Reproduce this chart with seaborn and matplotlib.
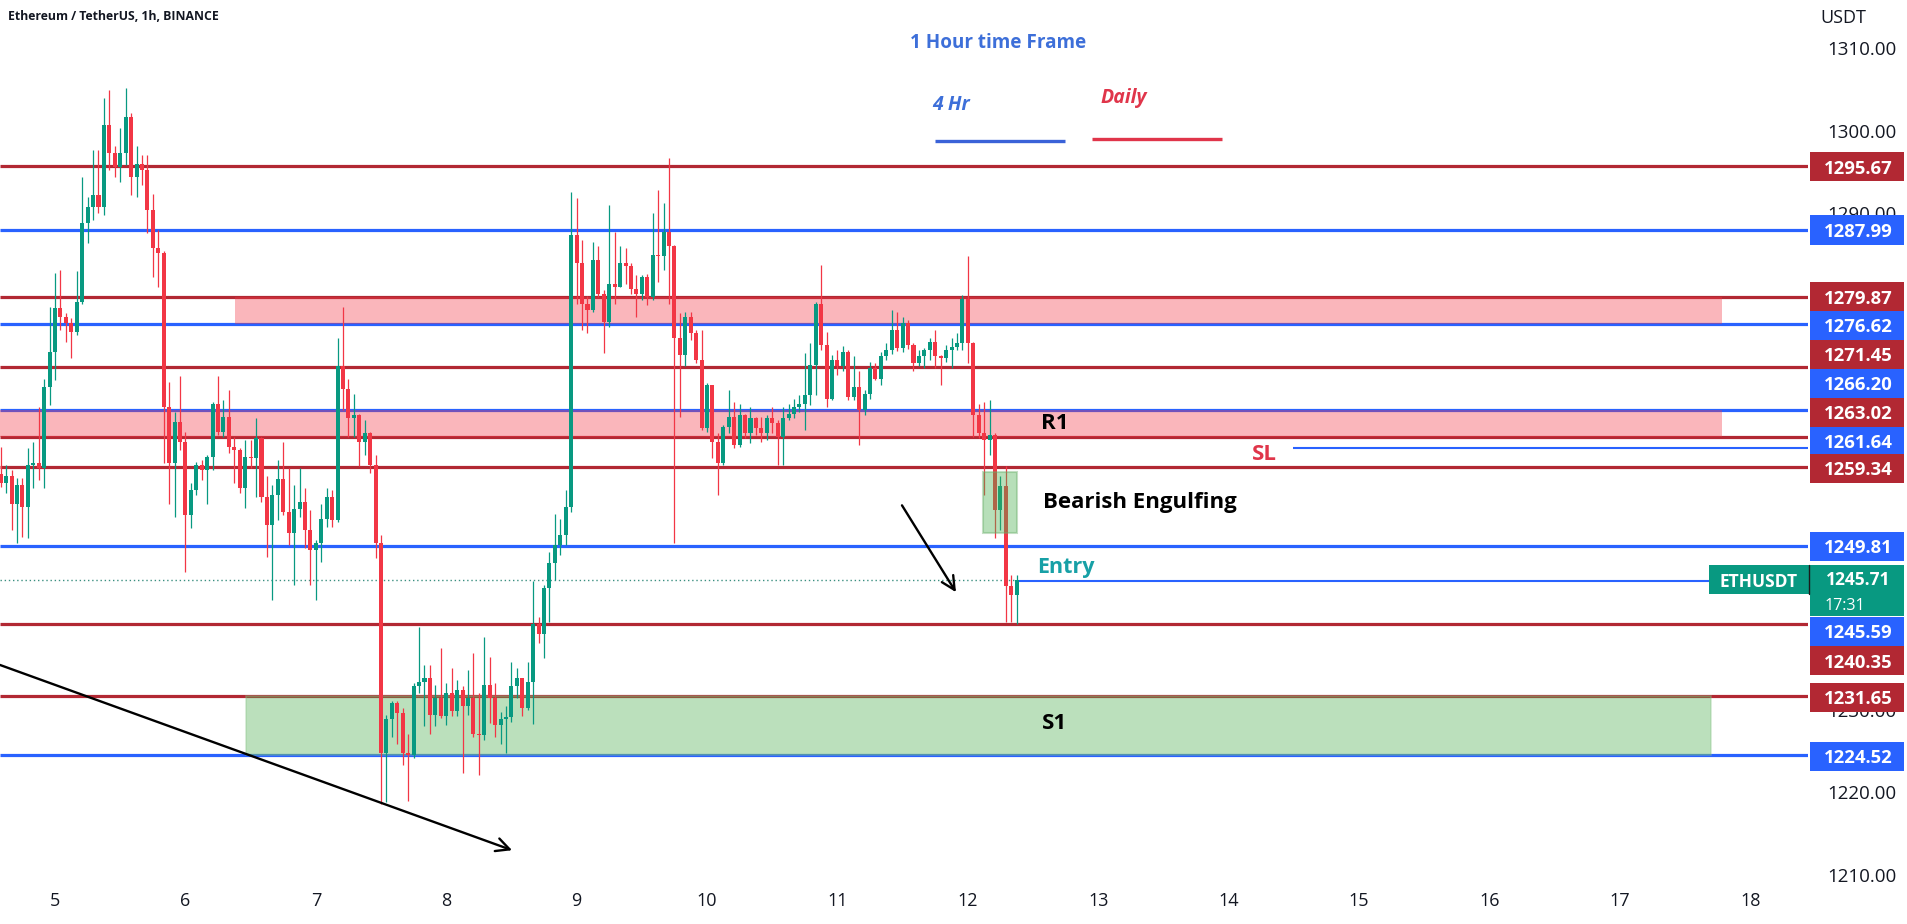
import numpy as np
import pandas as pd
import matplotlib
matplotlib.use("Agg")
import matplotlib.pyplot as plt
import seaborn as sns
from matplotlib.patches import Rectangle
from matplotlib.lines import Line2D

# ---------------- data ----------------
first_candle_day = 4 + 14 / 24          # first hourly candle: day 4, 14:00
first_open = 1258.5

close = [
    1257.4, 1258.2, 1254.9, 1257.1, 1254.5, 1259.6, 1259.8, 1259.2, 1269.0, 1273.3,
    1278.5, 1277.5, 1276.7, 1275.7, 1279.3, 1288.8, 1290.8, 1292.2, 1290.8, 1300.7,
    1297.3, 1295.6, 1297.3, 1301.7, 1294.4, 1296.0, 1295.2, 1290.4, 1285.8, 1285.2,
    1266.6, 1259.8, 1264.8, 1262.4, 1253.5, 1256.5, 1259.6, 1259.0, 1260.6, 1267.0,
    1263.6, 1265.4, 1261.8, 1261.4, 1256.8, 1260.6, 1260.4, 1262.8, 1255.7, 1252.3,
    1255.9, 1257.9, 1253.9, 1251.3, 1254.3, 1255.1, 1251.7, 1249.3, 1250.1, 1253.1,
    1255.7, 1252.9, 1271.5, 1268.8, 1265.2, 1265.6, 1262.4, 1263.4, 1259.6, 1250.1,
    1224.7, 1228.9, 1230.8, 1229.6, 1224.7, 1224.5, 1232.8, 1233.4, 1233.8, 1229.4,
    1231.4, 1229.2, 1232.0, 1229.8, 1232.4, 1230.4, 1231.4, 1227.1, 1226.9, 1233.0,
    1231.4, 1228.1, 1228.9, 1229.1, 1232.8, 1233.8, 1230.2, 1233.4, 1240.4, 1239.2,
    1244.7, 1247.7, 1249.9, 1251.1, 1254.5, 1287.4, 1284.0, 1279.1, 1278.3, 1284.4,
    1280.3, 1276.9, 1281.5, 1281.1, 1284.0, 1283.6, 1280.9, 1280.3, 1282.3, 1279.9,
    1285.0, 1284.8, 1287.8, 1286.0, 1274.9, 1272.9, 1277.5, 1275.5, 1272.3, 1264.0,
    1269.2, 1262.4, 1259.8, 1264.2, 1265.4, 1262.0, 1265.6, 1263.4, 1265.2, 1264.0,
    1263.4, 1265.2, 1264.6, 1263.0, 1265.2, 1265.8, 1266.6, 1267.0, 1268.0, 1271.7,
    1279.1, 1274.1, 1267.6, 1272.3, 1271.5, 1273.3, 1267.8, 1269.0, 1266.2, 1268.2,
    1271.3, 1270.0, 1272.7, 1273.5, 1275.9, 1273.7, 1276.7, 1274.1, 1271.9, 1272.7,
    1273.5, 1274.5, 1272.7, 1272.5, 1273.5, 1273.9, 1274.3, 1279.7, 1274.3, 1265.6,
    1263.4, 1262.6, 1263.2, 1254.1, 1257.0, 1244.9, 1243.9, 1245.71,
]
high = [
    1261.8, 1259.6, 1259.0, 1258.0, 1258.0, 1261.6, 1262.4, 1266.6, 1270.0, 1278.7,
    1282.8, 1283.1, 1277.9, 1277.3, 1283.0, 1294.4, 1292.0, 1297.7, 1297.7, 1303.9,
    1304.9, 1298.1, 1300.3, 1305.1, 1302.1, 1298.1, 1297.1, 1297.1, 1292.4, 1288.0,
    1285.5, 1269.6, 1266.0, 1270.3, 1263.6, 1257.4, 1260.0, 1260.2, 1260.8, 1267.2,
    1270.3, 1267.4, 1268.6, 1263.0, 1261.6, 1262.6, 1262.6, 1265.2, 1263.0, 1258.2,
    1257.2, 1260.2, 1262.4, 1259.2, 1257.2, 1259.2, 1256.8, 1254.1, 1250.5, 1254.9,
    1256.8, 1256.6, 1274.9, 1278.7, 1270.0, 1268.2, 1265.8, 1265.0, 1263.6, 1260.8,
    1251.1, 1229.3, 1231.0, 1231.0, 1230.2, 1227.1, 1233.2, 1240.0, 1235.4, 1235.4,
    1233.0, 1237.4, 1233.2, 1235.0, 1233.6, 1232.8, 1234.8, 1236.8, 1232.0, 1238.8,
    1236.4, 1233.2, 1229.7, 1230.4, 1235.8, 1235.0, 1233.8, 1235.8, 1245.5, 1241.2,
    1245.1, 1249.1, 1253.7, 1253.1, 1256.5, 1292.6, 1291.8, 1286.8, 1280.0, 1286.6,
    1286.0, 1280.7, 1291.0, 1287.8, 1286.0, 1285.8, 1284.0, 1282.5, 1282.5, 1282.7,
    1290.0, 1292.8, 1291.2, 1296.7, 1286.2, 1277.9, 1278.1, 1278.1, 1275.9, 1275.9,
    1269.5, 1269.2, 1263.4, 1264.4, 1268.6, 1267.2, 1267.0, 1265.8, 1266.6, 1265.4,
    1265.4, 1265.6, 1266.6, 1265.0, 1266.6, 1267.0, 1267.6, 1268.0, 1273.1, 1274.3,
    1279.3, 1283.8, 1275.7, 1272.9, 1273.5, 1274.0, 1273.5, 1272.7, 1270.9, 1268.6,
    1272.0, 1271.9, 1273.3, 1274.3, 1278.3, 1278.1, 1277.5, 1277.1, 1274.3, 1273.5,
    1273.7, 1274.9, 1275.9, 1272.9, 1274.1, 1274.9, 1275.5, 1280.1, 1284.8, 1274.5,
    1267.0, 1267.2, 1267.4, 1263.4, 1258.2, 1259.4, 1246.3, 1246.3,
]
low = [
    1256.9, 1256.2, 1251.7, 1250.1, 1250.9, 1250.7, 1256.8, 1257.8, 1256.8, 1266.8,
    1269.9, 1275.9, 1274.5, 1272.5, 1275.3, 1279.0, 1286.4, 1289.2, 1290.0, 1289.8,
    1295.2, 1294.4, 1293.8, 1295.9, 1292.2, 1292.0, 1293.4, 1287.6, 1282.3, 1281.1,
    1259.8, 1254.9, 1253.3, 1261.4, 1246.7, 1251.9, 1255.9, 1257.8, 1254.9, 1259.0,
    1263.2, 1263.0, 1261.0, 1257.4, 1256.2, 1254.4, 1259.2, 1255.7, 1255.1, 1248.5,
    1243.3, 1252.9, 1253.5, 1249.9, 1245.1, 1253.3, 1249.5, 1245.1, 1243.3, 1247.9,
    1252.1, 1252.1, 1252.7, 1266.2, 1263.0, 1263.0, 1259.4, 1260.8, 1258.6, 1248.3,
    1218.6, 1218.8, 1226.7, 1225.9, 1223.3, 1219.0, 1224.1, 1232.0, 1228.0, 1227.1,
    1228.0, 1229.0, 1228.1, 1229.2, 1229.2, 1222.3, 1229.4, 1226.7, 1222.1, 1226.3,
    1228.4, 1226.7, 1225.9, 1224.7, 1228.5, 1231.4, 1229.2, 1230.0, 1228.3, 1238.0,
    1236.2, 1240.6, 1245.7, 1248.7, 1249.9, 1253.9, 1279.1, 1275.9, 1275.5, 1278.1,
    1279.9, 1273.1, 1276.3, 1279.1, 1281.1, 1281.5, 1280.3, 1277.5, 1279.5, 1278.9,
    1279.5, 1281.7, 1283.2, 1279.1, 1250.1, 1265.4, 1271.5, 1274.7, 1271.9, 1263.8,
    1263.6, 1260.4, 1255.9, 1259.6, 1263.4, 1261.6, 1261.8, 1262.8, 1262.2, 1263.2,
    1262.4, 1262.6, 1263.4, 1259.6, 1259.6, 1265.0, 1265.2, 1266.0, 1263.8, 1266.8,
    1268.0, 1273.5, 1266.6, 1267.4, 1270.5, 1271.0, 1267.4, 1267.4, 1262.0, 1265.6,
    1267.6, 1269.8, 1269.2, 1272.3, 1273.0, 1273.4, 1273.3, 1273.6, 1270.9, 1271.5,
    1271.3, 1272.3, 1271.3, 1269.3, 1272.0, 1271.3, 1273.5, 1273.5, 1271.9, 1263.0,
    1262.8, 1256.0, 1260.8, 1250.7, 1251.7, 1240.6, 1240.6, 1240.4,
]

# horizontal levels (price, timeframe)
level_prices = [1295.67, 1287.99, 1279.87, 1276.62, 1271.45, 1266.20, 1263.02,
                1261.64, 1259.34, 1249.81, 1245.59, 1240.35, 1231.65, 1224.52]
level_frames = ["D", "4H", "D", "4H", "D", "4H", "D",
                "4H", "D", "4H", "4H", "D", "D", "4H"]
sl_price = 1261.64
entry_price = 1245.59
last_price = 1245.71
countdown = "17:31"
symbol = "ETHUSDT"

# zones (day start, day end, price low, price high)
zone_r_upper = (6.38, 17.78, 1276.62, 1279.87)
zone_r1 = (4.40, 17.78, 1263.02, 1266.20)
zone_s1 = (6.465, 17.70, 1224.52, 1231.65)
engulf_box = (12.117, 12.378, 1251.35, 1258.73)

day_ticks = list(range(5, 19))
price_ticks = [1210, 1220, 1230, 1290, 1300, 1310]

# ---------------- style ----------------
sns.set_theme(style="white")
plt.rcParams["font.family"] = ["Open Sans", "DejaVu Sans"]

UP, DOWN = "#089981", "#f23645"
LVL_RED, LVL_BLUE = "#b22833", "#2962ff"
TXT = "#131722"

W, H = 1908, 924
PLOT_R, PLOT_B = 1808, 880
fig = plt.figure(figsize=(W / 100, H / 100), dpi=100, facecolor="white")
ax = fig.add_axes([0, 1 - PLOT_B / H, PLOT_R / W, PLOT_B / H])
ax.set_facecolor("white")
for s in ax.spines.values():
    s.set_visible(False)
ax.grid(False)
XL = (4.578, 18.443)
YL = (1209.4, 1315.8)
ax.set_xlim(*XL)
ax.set_ylim(*YL)


def fx(px):
    return px / W


def fy(py):
    return 1 - py / H


# ---------------- candles ----------------
n = len(close)
opens = [first_open] + close[:-1]
df = pd.DataFrame({
    "t": first_candle_day + np.arange(n) / 24.0,
    "open": opens, "high": high, "low": low, "close": close,
})
df["up"] = df["close"] >= df["open"]
cols = np.where(df["up"], UP, DOWN)
ax.vlines(df["t"], df["low"], df["high"], colors=cols, lw=0.9, zorder=4)
bottom = np.minimum(df["open"], df["close"])
height = np.maximum((df["close"] - df["open"]).abs(), 0.15)
ax.bar(df["t"], height, bottom=bottom, width=0.74 / 24, color=cols,
       linewidth=0, zorder=5)
t_last = df["t"].iloc[-1]

# ---------------- levels ----------------
for p, fr in zip(level_prices, level_frames):
    c = LVL_RED if fr == "D" else LVL_BLUE
    if p == sl_price:
        ax.hlines(p, 14.49, XL[1], colors=c, lw=1.5, zorder=3)
    elif p == entry_price:
        ax.hlines(p, t_last, XL[1], colors=c, lw=1.5, zorder=3)
    else:
        ax.hlines(p, XL[0], XL[1], colors=c, lw=2.3, zorder=3)

# current price dotted line
ax.hlines(last_price, XL[0], t_last, colors="#3b8f80", lw=1.0,
          linestyles=(0, (1, 2)), zorder=3)

# zones
for z in (zone_r_upper, zone_r1):
    ax.add_patch(Rectangle((z[0], z[2]), z[1] - z[0], z[3] - z[2],
                           facecolor="#f23645", alpha=0.36, lw=0, zorder=3.5))
ax.add_patch(Rectangle((zone_s1[0], zone_s1[2]), zone_s1[1] - zone_s1[0],
                       zone_s1[3] - zone_s1[2], facecolor="#4caf50", alpha=0.38,
                       edgecolor="#8cc58c", lw=1.2, zorder=3.5))
ax.add_patch(Rectangle((engulf_box[0], engulf_box[2]), engulf_box[1] - engulf_box[0],
                       engulf_box[3] - engulf_box[2], facecolor="#4caf50", alpha=0.4,
                       edgecolor="#6aad6a", lw=1.5, zorder=6))

# ---------------- axes ticks ----------------
ax.yaxis.tick_right()
ax.set_yticks(price_ticks)
ax.yaxis.set_major_formatter(matplotlib.ticker.FuncFormatter(lambda v, p: f"{v:.2f}"))
ax.tick_params(axis="y", length=0, pad=14, labelsize=13.5, labelcolor=TXT)
ax.set_xticks(day_ticks)
ax.set_xticklabels([str(d) for d in day_ticks])
ax.tick_params(axis="x", length=0, pad=9, labelsize=13, labelcolor=TXT)

# ---------------- annotations ----------------
ax.text(11.557, 1310.6, "1 Hour time Frame", color="#3d6fd9", fontsize=13.6,
        fontweight="bold", va="center", ha="left", zorder=7)
ax.text(11.725, 1303.1, "4 Hr", color="#3d6fd9", fontsize=14, fontweight="bold",
        fontstyle="italic", va="center", ha="left", zorder=7)
ax.text(13.014, 1303.95, "Daily", color="#e0354a", fontsize=14, fontweight="bold",
        fontstyle="italic", va="center", ha="left", zorder=7)
ax.hlines(1298.75, 11.748, 12.745, colors="#3a62d8", lw=2.4, zorder=7)
ax.hlines(1299.0, 12.952, 13.949, colors="#e0354a", lw=2.4, zorder=7)

ax.text(12.669, 1264.6, "R1", color="black", fontsize=16, fontweight="bold",
        ha="center", va="center", zorder=7)
ax.text(12.661, 1228.3, "S1", color="black", fontsize=16, fontweight="bold",
        ha="center", va="center", zorder=7)
ax.text(14.18, 1260.8, "SL", color="#e0354a", fontsize=16, fontweight="bold",
        ha="left", va="center", zorder=7)
ax.text(12.577, 1255.1, "Bearish Engulfing", color="black", fontsize=16,
        fontweight="bold", ha="left", va="center", zorder=7)
ax.text(12.53, 1247.2, "Entry", color="#17a0a6", fontsize=15.5, fontweight="bold",
        ha="left", va="center", zorder=7)

arrow_kw = dict(arrowstyle="->", color="black", lw=1.7, mutation_scale=24,
                shrinkA=0, shrinkB=0)
ax.annotate("", xy=(8.505, 1213.0), xytext=(4.578, 1235.4),
            arrowprops=arrow_kw, zorder=7)
ax.annotate("", xy=(11.909, 1244.2), xytext=(11.495, 1254.7),
            arrowprops=arrow_kw, zorder=7)

# ---------------- right price-axis labels ----------------
label_centers = {1295.67: 166.5, 1287.99: 230, 1279.87: 296.5, 1276.62: 325.5,
                 1271.45: 354.5, 1266.20: 383.5, 1263.02: 412.5, 1261.64: 441.5,
                 1259.34: 468, 1249.81: 546, 1245.59: 631.5, 1240.35: 660.5,
                 1231.65: 697, 1224.52: 756}
for p, fr in zip(level_prices, level_frames):
    c = LVL_RED if fr == "D" else LVL_BLUE
    cy = label_centers[p]
    fig.add_artist(Rectangle((fx(1810), fy(cy + 14.5)), 94 / W, 29 / H,
                             transform=fig.transFigure, facecolor=c,
                             edgecolor="none", zorder=5))
    fig.text(fx(1858), fy(cy), f"{p:.2f}", color="white", fontsize=13.3,
             fontweight="bold", ha="center", va="center_baseline", zorder=6)

# last price tag
fig.add_artist(Rectangle((fx(1810), fy(616)), 94 / W, 51 / H,
                         transform=fig.transFigure, facecolor=UP,
                         edgecolor="none", zorder=5))
fig.add_artist(Rectangle((fx(1709), fy(594)), 100 / W, 29 / H,
                         transform=fig.transFigure, facecolor=UP,
                         edgecolor="none", zorder=5))
fig.add_artist(Line2D([fx(1809), fx(1809)], [fy(565), fy(594)],
                      transform=fig.transFigure, color="#1b1b1b", lw=1, zorder=6))
fig.text(fx(1759), fy(580), symbol, color="white", fontsize=12.5,
         fontweight="bold", ha="center", va="center_baseline", zorder=6)
fig.text(fx(1858), fy(578), f"{last_price:.2f}", color="white", fontsize=12.5,
         fontweight="bold", ha="center", va="center_baseline", zorder=6)
fig.text(fx(1825), fy(604), countdown, color="white", fontsize=11.5,
         ha="left", va="center_baseline", zorder=6)

# header texts
fig.text(fx(8), fy(17), "Ethereum / TetherUS, 1h, BINANCE", color=TXT,
         fontsize=8.8, fontweight="bold", ha="left", va="center")
fig.text(fx(1820), fy(18), "USDT", color=TXT, fontsize=13, ha="left", va="center")

fig.savefig("out.png", dpi=100, facecolor="white")
